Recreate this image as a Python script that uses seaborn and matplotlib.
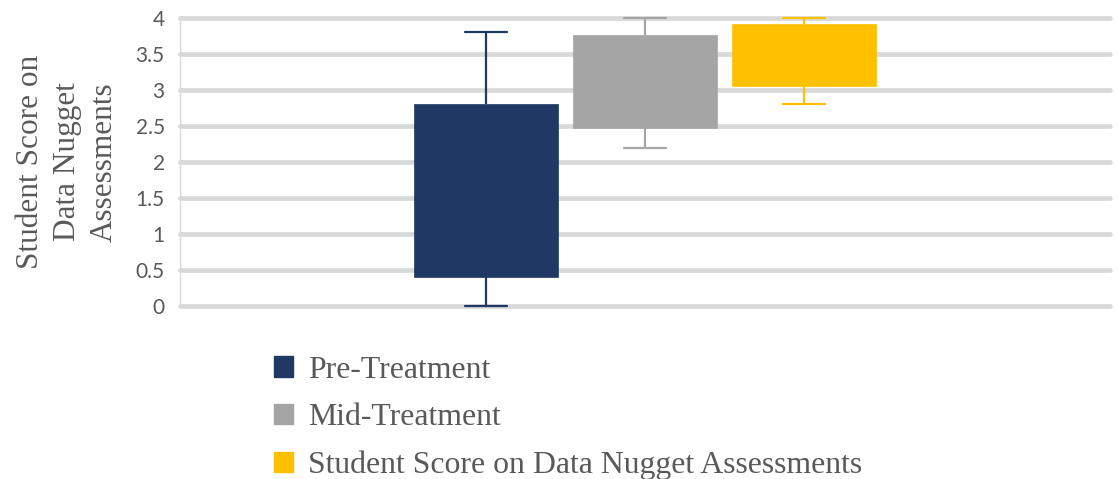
import matplotlib
matplotlib.use("Agg")
import matplotlib.pyplot as plt
import seaborn as sns
import pandas as pd
from matplotlib.patches import Patch

# Five-number summaries (min, Q1, Q1, Q3, max) per assessment; medians are not shown
groups = ["Pre-Treatment", "Mid-Treatment", "Student Score on Data Nugget Assessments"]
pre_scores = [0.0, 0.4, 0.4, 2.8, 3.8]
mid_scores = [2.2, 2.47, 2.47, 3.76, 4.0]
post_scores = [2.8, 3.05, 3.05, 3.92, 4.0]
colors = ["#203864", "#A5A5A5", "#FFC000"]
y_ticks = [0, 0.5, 1, 1.5, 2, 2.5, 3, 3.5, 4]
y_tick_labels = ["0", "0.5", "1", "1.5", "2", "2.5", "3", "3.5", "4"]

df = pd.DataFrame({
    "score": pre_scores + mid_scores + post_scores,
    "group": [groups[0]] * len(pre_scores) + [groups[1]] * len(mid_scores) + [groups[2]] * len(post_scores),
    "cat": ["all"] * (len(pre_scores) + len(mid_scores) + len(post_scores)),
})

sns.set_style("white")
fig = plt.figure(figsize=(11.17, 4.79), dpi=100)
ax = fig.add_axes([180 / 1117, 1 - 306 / 479, 930 / 1117, 288 / 479])

sns.boxplot(
    data=df, x="cat", y="score", hue="group", hue_order=groups,
    palette=colors, width=0.513, gap=0.09, whis=(0, 100),
    showfliers=False, linewidth=1.6, capwidths=0.046,
    medianprops={"visible": False}, ax=ax,
)

# colour each box's whiskers and caps like its fill
for cont, col in zip(ax.containers, colors):
    for b in cont.boxes:
        b.set_edgecolor(col)
        b.set_facecolor(col)
        b.set_linewidth(0.5)
    for ln in list(cont.whiskers) + list(cont.caps):
        ln.set_color(col)
        ln.set_linewidth(1.6)
        ln.set_clip_on(False)

ax.set_xlim(-0.5, 0.5)
ax.set_ylim(0, 4)
ax.set_yticks(y_ticks)
ax.set_yticklabels(y_tick_labels, fontfamily="Lato", fontsize=15, color="#595959")
ax.tick_params(axis="y", length=0, pad=11)
ax.set_xticks([])
ax.set_xlabel("")
ax.yaxis.grid(True, color="#D9D9D9", linewidth=3.4)
ax.set_axisbelow(True)
for gl in ax.get_ygridlines():
    gl.set_clip_on(False)
for s in ["top", "right", "bottom"]:
    ax.spines[s].set_visible(False)
ax.spines["left"].set_color("#D9D9D9")
ax.spines["left"].set_linewidth(1.0)

ax.set_ylabel("Student Score on\nData Nugget\nAssessments", fontfamily="Liberation Serif",
              fontsize=22.5, color="#595959", linespacing=1.36, labelpad=12)

ax.get_legend().remove()
handles = [Patch(facecolor=c, edgecolor=c) for c in colors]
fig.legend(handles, groups, loc="upper left", bbox_to_anchor=(245 / 1117, 1 - 327 / 479),
           frameon=False, prop={"family": "Liberation Serif", "size": 22.9},
           labelcolor="#595959", handlelength=0.62, handleheight=0.62,
           handletextpad=0.45, labelspacing=0.58)

fig.savefig("out.png", dpi=100)
